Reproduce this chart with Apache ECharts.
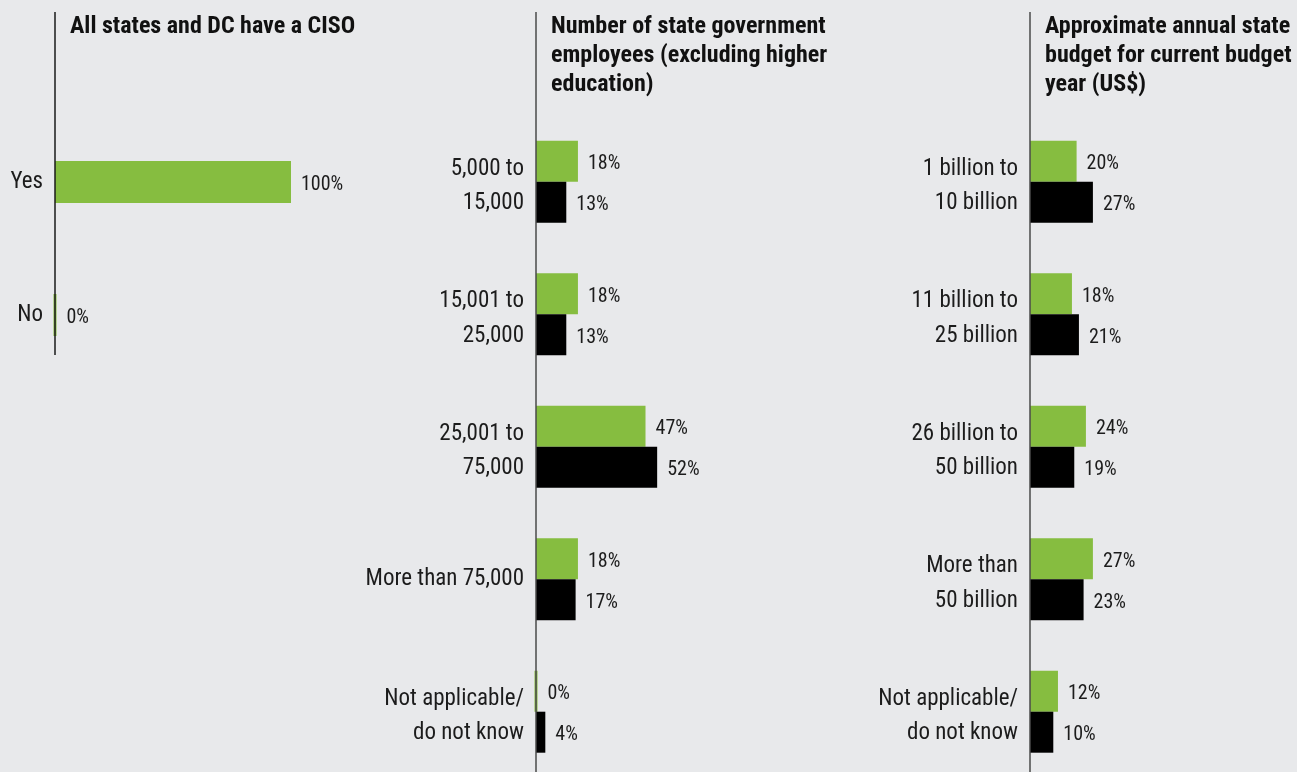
<!DOCTYPE html>
<html>
<head>
<meta charset="utf-8">
<script src="https://cdn.jsdelivr.net/npm/echarts@6/dist/echarts.min.js"></script>
<style>
  html, body { margin: 0; padding: 0; background: #e8e9eb; }
  #chart { width: 1297px; height: 772px; }
</style>
</head>
<body>
<div id="chart"></div>
<script>
// Survey results: CISO presence, workforce size and annual budget
const cisoCategories = ['Yes', 'No'];
const cisoValues = [100, 0];

const employeeCategories = ['5,000 to\n15,000', '15,001 to\n25,000', '25,001 to\n75,000', 'More than 75,000', 'Not applicable/\ndo not know'];
const employeeCurrent = [18, 18, 47, 18, 0];
const employeePrevious = [13, 13, 52, 17, 4];

const budgetCategories = ['1 billion to\n10 billion', '11 billion to\n25 billion', '26 billion to\n50 billion', 'More than\n50 billion', 'Not applicable/\ndo not know'];
const budgetCurrent = [20, 18, 24, 27, 12];
const budgetPrevious = [27, 21, 19, 23, 10];

const panelTitles = [
  'All states and DC have a CISO',
  'Number of state government\nemployees (excluding higher\neducation)',
  'Approximate annual state\nbudget for current budget\nyear (US$)'
];

const FONT = "'Roboto Condensed', 'Liberation Sans Narrow', 'DejaVu Sans Condensed', 'Arial Narrow', Roboto, sans-serif";
const GREEN = '#86bd40';
const BLACK = '#000000';
const TEXT = '#1c1c1c';

// zero values still get a thin sliver along the axis
function barData(values, color) {
  return values.map(v => v === 0
    ? { value: 0, itemStyle: { borderColor: color, borderWidth: 3 } }
    : v);
}

// two-line category labels get a small spacer on top so they sit a bit lower
function categoryLabel(v) {
  if (v.indexOf('\n') < 0) return v;
  return '{s| }\n' + v.split('\n').map(l => '{a|' + l + '}').join('\n');
}

// category axes run from the first group's centre to the last one's
const panels = [
  { left: 55, width: 236, top: 182, height: 133, ruleBottom: 355 },
  { left: 536, width: 233, top: 181.7, height: 530, ruleBottom: 772 },
  { left: 1030, width: 233, top: 181.7, height: 530, ruleBottom: 772 }
];

const valueLabel = {
  show: true,
  position: 'right',
  distance: 10,
  offset: [0, 3],
  formatter: p => p.value + '%',
  fontFamily: FONT,
  fontSize: 20,
  color: TEXT
};

const catAxis = (data, idx) => ({
  type: 'category',
  gridIndex: idx,
  data: data,
  inverse: true,
  boundaryGap: false,
  axisLine: { show: false },
  axisTick: { show: false },
  splitLine: { show: false },
  axisLabel: {
    margin: 12,
    fontFamily: FONT,
    fontSize: 23,
    lineHeight: 34.5,
    color: TEXT,
    align: 'right',
    formatter: categoryLabel,
    rich: {
      s: { fontSize: 6, lineHeight: 9, fontFamily: FONT },
      a: { fontSize: 23, lineHeight: 34.5, fontFamily: FONT, color: TEXT, align: 'right' }
    }
  }
});

const valAxis = idx => ({
  type: 'value',
  gridIndex: idx,
  min: 0,
  max: 100,
  show: false
});

const bar = (name, values, color, xi, width) => ({
  name: name,
  type: 'bar',
  xAxisIndex: xi,
  yAxisIndex: xi,
  data: barData(values, color),
  barWidth: width,
  barGap: '0%',
  clip: false,
  itemStyle: { color: color },
  label: valueLabel
});

const option = {
  backgroundColor: '#e8e9eb',
  animation: false,
  title: panelTitles.map((t, i) => ({
    text: t,
    left: panels[i].left + 15,
    top: 12,
    padding: 0,
    textStyle: {
      fontFamily: FONT,
      fontWeight: 'bold',
      fontSize: 24,
      lineHeight: 29,
      color: '#111111'
    }
  })),
  grid: panels.map(p => ({ left: p.left, width: p.width, top: p.top, height: p.height, containLabel: false })),
  xAxis: [valAxis(0), valAxis(1), valAxis(2)],
  yAxis: [catAxis(cisoCategories, 0), catAxis(employeeCategories, 1), catAxis(budgetCategories, 2)],
  series: [
    bar('Current', cisoValues, GREEN, 0, 42),
    bar('Current', employeeCurrent, GREEN, 1, 41),
    bar('Previous', employeePrevious, BLACK, 1, 41),
    bar('Current', budgetCurrent, GREEN, 2, 41),
    bar('Previous', budgetPrevious, BLACK, 2, 41)
  ],
  // vertical rule at the base of each panel, running up past the title
  graphic: panels.map((p, i) => ({
    type: 'line',
    z: 100,
    shape: { x1: p.left, y1: 12, x2: p.left, y2: p.ruleBottom },
    style: { stroke: i === 0 ? '#1a1a1a' : '#4a4a4a', lineWidth: 1.5 }
  }))
};

const chart = echarts.init(document.getElementById('chart'), null, { renderer: 'canvas' });
chart.setOption(option);
</script>
</body>
</html>
